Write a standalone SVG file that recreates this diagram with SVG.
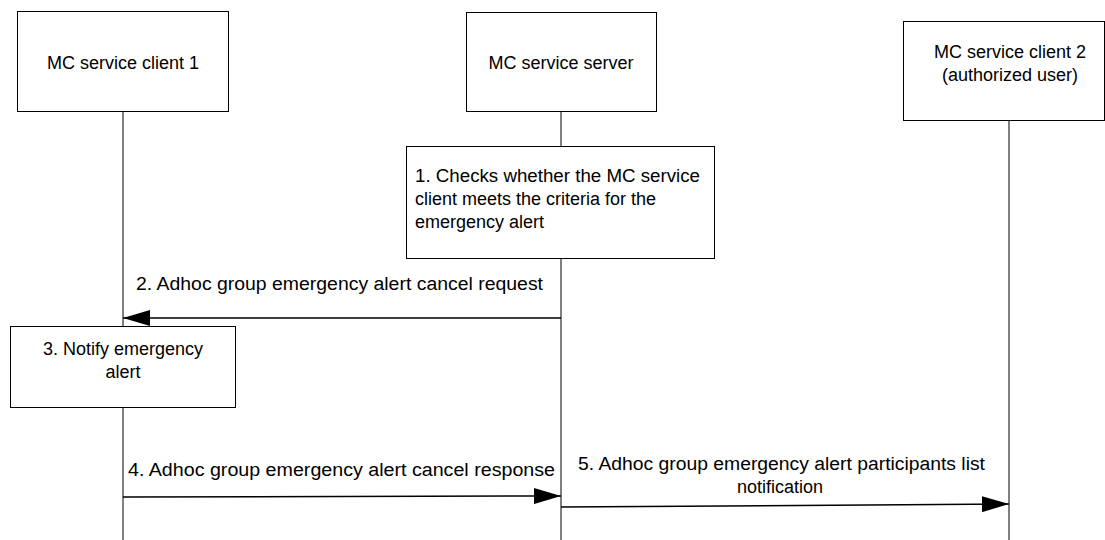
<svg xmlns="http://www.w3.org/2000/svg" width="1105" height="540" viewBox="0 0 1105 540">
<defs>
<style>
.box{fill:#fff;stroke:#000;stroke-width:1}
.life{stroke:#000;stroke-width:1;fill:none}
.msg{stroke:#000;stroke-width:1.5;fill:none}
text{font-family:"Liberation Sans",Arial,sans-serif;font-size:18px;fill:#000}
.c{text-anchor:middle}
</style>
<marker id="ah" markerWidth="28" markerHeight="16" refX="27" refY="8" orient="auto" markerUnits="userSpaceOnUse">
<path d="M0,0 L27,8 L0,16 Z" fill="#000"/>
</marker>
</defs>
<rect width="1105" height="540" fill="#fff"/>
<g id="lifelines">
<line class="life" x1="123" y1="112" x2="123" y2="326"/>
<line class="life" x1="123" y1="408" x2="123" y2="540"/>
<line class="life" x1="561" y1="112" x2="561" y2="146"/>
<line class="life" x1="561" y1="259" x2="561" y2="540"/>
<line class="life" x1="1009" y1="121" x2="1009" y2="540"/>
</g>
<g id="client1">
<rect class="box" x="17.5" y="11.5" width="211" height="100"/>
<text class="c" x="123" y="69">MC service client 1</text>
</g>
<g id="server">
<rect class="box" x="466.5" y="12.5" width="190" height="99"/>
<text class="c" x="561" y="69">MC service server</text>
</g>
<g id="client2">
<rect class="box" x="903.5" y="21.5" width="201" height="99"/>
<text class="c" x="1010" y="58">MC service client 2</text>
<text class="c" x="1010" y="81">(authorized user)</text>
</g>
<g id="step1">
<rect class="box" x="406.5" y="146.5" width="308" height="112"/>
<text x="415" y="182" textLength="285" lengthAdjust="spacingAndGlyphs">1. Checks whether the MC service</text>
<text x="415" y="205">client meets the criteria for the</text>
<text x="415" y="228">emergency alert</text>
</g>
<g id="step3">
<rect class="box" x="10.5" y="326.5" width="225" height="81"/>
<text class="c" x="123" y="355">3. Notify emergency</text>
<text class="c" x="123" y="378">alert</text>
</g>
<g id="connectors">
<line class="msg" x1="561" y1="318" x2="123" y2="318" marker-end="url(#ah)"/>
<line class="msg" x1="123" y1="497" x2="561" y2="496" marker-end="url(#ah)"/>
<line class="msg" x1="561" y1="507" x2="1009" y2="504" marker-end="url(#ah)"/>
</g>
<g id="labels">
<text x="136" y="290" textLength="407" lengthAdjust="spacingAndGlyphs">2. Adhoc group emergency alert cancel request</text>
<text x="128" y="476" textLength="427" lengthAdjust="spacingAndGlyphs">4. Adhoc group emergency alert cancel response</text>
<text x="578" y="470" textLength="407" lengthAdjust="spacingAndGlyphs">5. Adhoc group emergency alert participants list</text>
<text class="c" x="780" y="493">notification</text>
</g>
</svg>
